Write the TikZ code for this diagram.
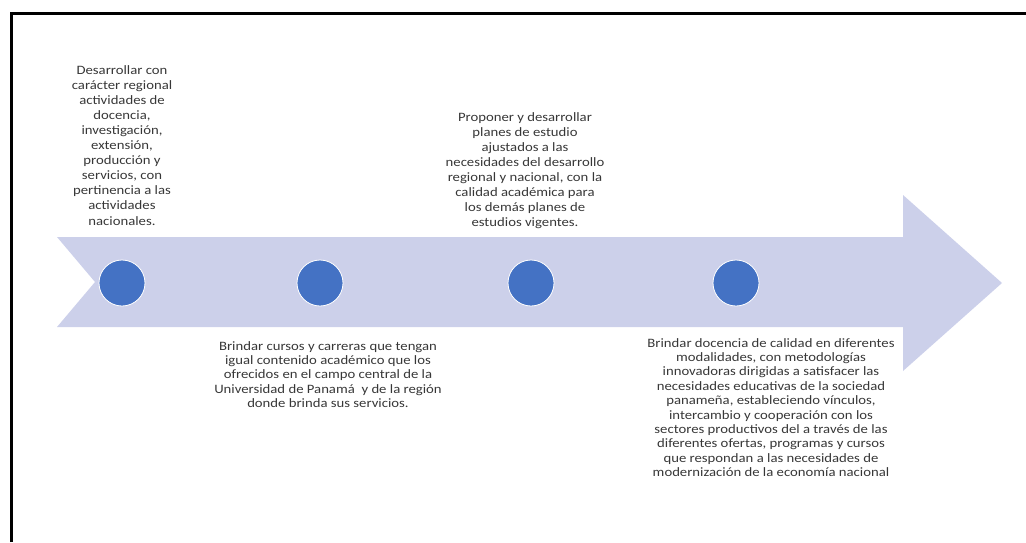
\documentclass[tikz,border=0pt]{standalone}
\usepackage{fontspec}
\setmainfont{Carlito}[FakeStretch=1.15]
\usetikzlibrary{positioning}
\definecolor{flechafill}{RGB}{204,208,234}
\definecolor{hitoazul}{RGB}{68,114,196}
\definecolor{textogris}{RGB}{55,55,55}
\tikzset{
  hito/.style={circle, fill=hitoazul, draw=white, line width=0.8pt, minimum size=46pt, inner sep=0pt},
  meta/.style={align=center, text=textogris, inner sep=0pt, anchor=north, font=\fontsize{12.8}{15.1}\selectfont},
  metajunta/.style={meta, font=\fontsize{12.8}{14.4}\selectfont},
}

\begin{document}
\begin{tikzpicture}[x=1pt, y=-1pt]
		%%%%% START %%%%%
		\useasboundingbox (0, 0) rectangle (1026, 542);
		
		\draw[line width=3pt] (11, 542) -- (11, 13) -- (1026, 13);
		
		\fill[flechafill] (57, 237) -- (903, 237) -- (903, 195) -- (1002, 283) -- (903, 371) -- (903, 327) -- (57, 327) -- (95, 282) -- cycle;
		
		\node[hito] (h1) at (122, 283) {};
		\node[hito] (h2) at (320, 283) {};
		\node[hito] (h3) at (531, 283) {};
		\node[hito] (h4) at (736, 283) {};
		
		\node[meta] (m1) at (122, 65) {Desarrollar con\\carácter regional\\actividades de\\docencia,\\investigación,\\extensión,\\producción y\\servicios, con\\pertinencia a las\\actividades\\nacionales.};
		\node[meta] (m3) at (525, 112) {Proponer y desarrollar\\planes de estudio\\ajustados a las\\necesidades del desarrollo\\regional y nacional, con la\\calidad académica para\\los demás planes de\\estudios vigentes.};
		\node[metajunta] (m2) at (328, 341) {Brindar cursos y carreras que tengan\\igual contenido académico que los\\ofrecidos en el campo central de la\\Universidad de Panamá \ y de la región\\donde brinda sus servicios.};
		\node[metajunta] (m4) at (771, 338) {Brindar docencia de calidad en diferentes\\modalidades, con metodologías\\innovadoras dirigidas a satisfacer las\\necesidades educativas de la sociedad\\panameña, estableciendo vínculos,\\intercambio y cooperación con los\\sectores productivos del a través de las\\diferentes ofertas, programas y cursos\\que respondan a las necesidades de\\modernización de la economía nacional};
		
		%%%%% END %%%%%
\end{tikzpicture}
\end{document}
